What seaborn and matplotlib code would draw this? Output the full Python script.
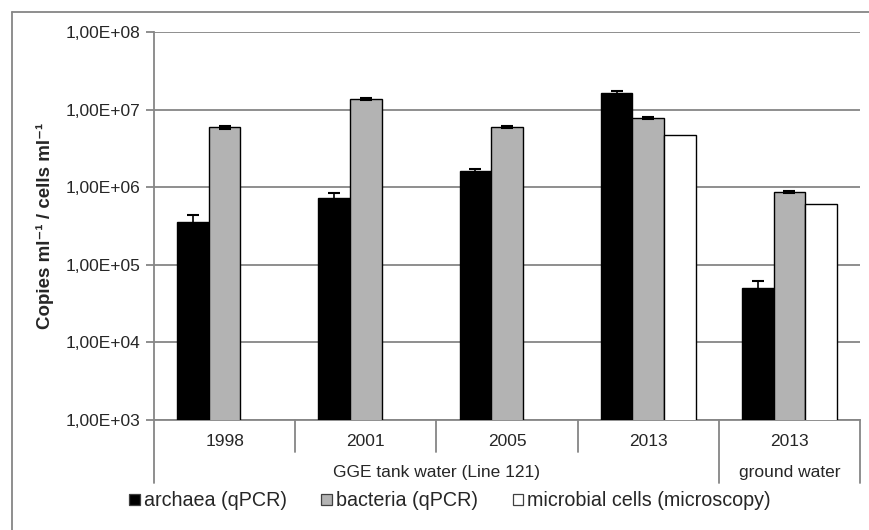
import numpy as np
import pandas as pd
import matplotlib
matplotlib.use("Agg")
import matplotlib.pyplot as plt
import matplotlib.transforms as mtransforms
from matplotlib.lines import Line2D
import seaborn as sns

# ---- data ----
categories = ["1998", "2001", "2005", "2013 GGE", "2013 GW"]
year_labels = ["1998", "2001", "2005", "2013", "2013"]
series = ["archaea (qPCR)", "bacteria (qPCR)", "microbial cells (microscopy)"]
archaea = [3.6e5, 7.3e5, 1.63e6, 1.64e7, 5.0e4]
archaea_err = [0.8e5, 1.2e5, 0.1e6, 0.08e7, 1.2e4]
bacteria = [5.9e6, 1.38e7, 5.97e6, 7.8e6, 8.65e5]
bacteria_err = [0.2e6, 0.05e7, 0.1e6, 0.3e6, 0.2e5]
microscopy = [np.nan, np.nan, np.nan, 4.7e6, 6.1e5]
microscopy_err = [np.nan, np.nan, np.nan, np.nan, np.nan]
group_labels = ["GGE tank water (Line 121)", "ground water"]
group_spans = [(0, 3), (4, 4)]
ytick_vals = [1e3, 1e4, 1e5, 1e6, 1e7, 1e8]

rows = []
for s, vals, errs in [(series[0], archaea, archaea_err),
                      (series[1], bacteria, bacteria_err),
                      (series[2], microscopy, microscopy_err)]:
    for c, v, e in zip(categories, vals, errs):
        rows.append({"cat": c, "series": s, "value": v, "err": e})
df = pd.DataFrame(rows)

sns.set_style("white")
plt.rcParams["font.family"] = ["Liberation Sans", "DejaVu Sans"]

GRAY = "#868686"
palette = {series[0]: "#000000", series[1]: "#b3b3b3", series[2]: "#ffffff"}

fig = plt.figure(figsize=(8.7, 5.3), dpi=100)
ax = fig.add_axes([154 / 870, 1 - 420 / 530, (860 - 154) / 870, (420 - 32) / 530])

sns.barplot(data=df.dropna(subset=["value"]), x="cat", y="value", hue="series",
            order=categories, hue_order=series, palette=palette,
            width=0.67, errorbar=None, edgecolor="black", linewidth=1.0,
            ax=ax, zorder=3)
ax.set_yscale("log")
ax.set_ylim(1e3, 1e8)
ax.set_xlim(-0.5, len(categories) - 0.5)

# error bars at bar positions given by seaborn
bw = 0.67 / 3
errs = {(s, c): e for s, c, e in zip(df["series"], df["cat"], df["err"])}
for p in ax.patches:
    h = p.get_height()
    if not np.isfinite(h) or h <= 0:
        continue
    cx = p.get_x() + p.get_width() / 2
    i = int(round(cx))
    j = int(round((cx - i) / bw)) + 1
    e = errs.get((series[j], categories[i]), np.nan)
    if np.isfinite(e):
        ax.errorbar(cx, h, yerr=e, fmt="none", ecolor="black", elinewidth=1.2,
                    capsize=4, capthick=1.5, zorder=4)

# grid & spines
ax.yaxis.grid(True, color=GRAY, linewidth=1.3, zorder=0)
ax.xaxis.grid(False)
ax.set_axisbelow(True)
for side in ["top", "right"]:
    ax.spines[side].set_visible(False)
for side in ["left", "bottom"]:
    ax.spines[side].set_color(GRAY)
    ax.spines[side].set_linewidth(1.3)

ax.set_yticks(ytick_vals)
ax.set_yticklabels([f"1,00E+{int(round(np.log10(v))):02d}" for v in ytick_vals])
ax.yaxis.set_minor_locator(matplotlib.ticker.NullLocator())
ax.tick_params(axis="y", which="major", length=6, width=1.3, color=GRAY,
               labelsize=12.5, pad=4, left=True)
ax.set_xticks(range(len(categories)))
ax.set_xticklabels(year_labels)
ax.tick_params(axis="x", length=0, labelsize=12.5, pad=10)
ax.set_xlabel("")
ax.set_ylabel("Copies ml\u207b\u00b9 / cells ml\u207b\u00b9", fontsize=13.5,
              fontweight="bold", labelpad=8)
handles, labels = ax.get_legend_handles_labels()
if ax.get_legend() is not None:
    ax.get_legend().remove()

# two-level category axis
trans = mtransforms.blended_transform_factory(ax.transData, ax.transAxes)
short_y = -(452 - 420) / 388
long_y = -(483 - 420) / 388
long_bounds = {-0.5}
for a, b in group_spans:
    long_bounds.add(b + 0.5)
for k in range(len(categories) + 1):
    xb = k - 0.5
    y1 = long_y if xb in long_bounds else short_y
    ax.add_line(Line2D([xb, xb], [0, y1], transform=trans, color=GRAY,
                       linewidth=1.3, clip_on=False))
for lab, (a, b) in zip(group_labels, group_spans):
    ax.text((a + b) / 2, -(473 - 420) / 388, lab, transform=trans,
            ha="center", va="center", fontsize=12.5)

# legend
leg = fig.legend(handles, labels, loc="center", bbox_to_anchor=(450 / 870, 1 - 501 / 530),
                 ncol=3, frameon=False, fontsize=14.2, handlelength=0.55,
                 handleheight=0.55, handletextpad=0.2, columnspacing=1.75)
for hnd in leg.legend_handles:
    hnd.set_edgecolor("#404040")
    hnd.set_linewidth(0.9)

# outer chart frame
fig.add_artist(Line2D([12 / 870, 1], [1 - 12 / 530, 1 - 12 / 530],
                      transform=fig.transFigure, color=GRAY, linewidth=1.3))
fig.add_artist(Line2D([12 / 870, 12 / 870], [0, 1 - 12 / 530],
                      transform=fig.transFigure, color=GRAY, linewidth=1.3))

fig.savefig("out.png", dpi=100)
